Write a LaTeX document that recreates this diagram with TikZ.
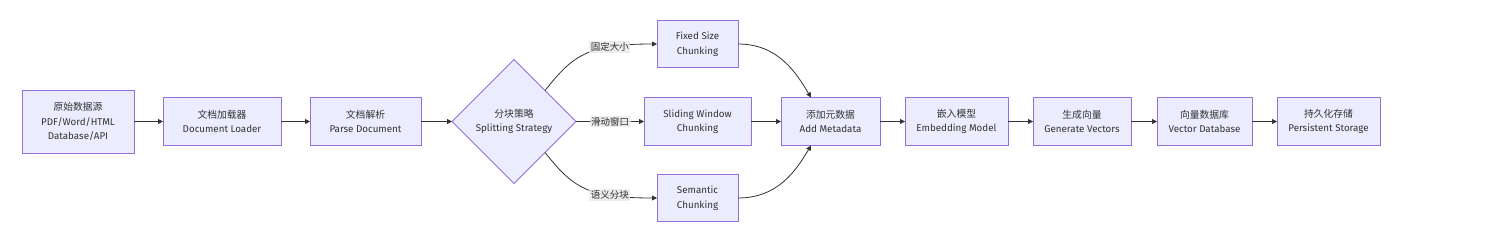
\documentclass[tikz,border=0pt]{standalone}
\usepackage{fontspec}
\setmainfont{Fira Sans}
\newfontfamily\cjk{Noto Sans CJK SC}
\usepackage{tikz}
\usetikzlibrary{positioning,arrows.meta,shapes.geometric}
\definecolor{boxfill}{HTML}{ECECFF}
\definecolor{boxline}{HTML}{9370DB}
\definecolor{linkcol}{HTML}{333333}
\definecolor{labfill}{HTML}{E8E8E8}

\begin{document}
\begin{tikzpicture}[
    x=1pt, y=-1pt,
    font=\fontsize{9.8}{14.5}\selectfont,
    text=linkcol,
    proc_box/.style={draw=boxline, fill=boxfill, line width=0.9pt, align=center, inner sep=1pt, outer sep=0pt, minimum height=48pt},
    split_box/.style={diamond, aspect=1, draw=boxline, fill=boxfill, line width=0.9pt, align=center, inner sep=0pt, outer sep=0pt, minimum width=124pt, minimum height=124pt},
    arrow/.style={-{Triangle[length=5pt,width=5pt]}, draw=linkcol, line width=0.8pt},
    edge_lab/.style={fill=labfill, fill opacity=0.8, text opacity=1, inner sep=1.5pt, font=\cjk\fontsize{9.5}{12}\selectfont}
]

\useasboundingbox (0,0) rectangle (1485,246);

% main chain
\node (src) [proc_box, minimum width=112pt, minimum height=63pt] at (78,121.5)
    {{\cjk 原始数据源}\\PDF/Word/HTML\\Database/API};
\node (loader) [proc_box, minimum width=118pt, right=29pt of src]
    {{\cjk 文档加载器}\\Document Loader};
\node (parse) [proc_box, minimum width=111pt, right=29pt of loader]
    {{\cjk 文档解析}\\Parse Document};
\node (split) [split_box, right=31pt of parse]
    {{\cjk 分块策略}\\Splitting Strategy};

% chunking branches
\node (slide) [proc_box, minimum width=107pt, right=68pt of split]
    {Sliding Window\\Chunking};
\node (fix) [proc_box, minimum width=81pt, minimum height=47pt, above=30pt of slide]
    {Fixed Size\\Chunking};
\node (sem) [proc_box, minimum width=81pt, minimum height=47pt, below=29pt of slide]
    {Semantic\\Chunking};

\node (meta) [proc_box, minimum width=99pt, right=30pt of slide]
    {{\cjk 添加元数据}\\Add Metadata};
\node (embed) [proc_box, minimum width=103pt, right=25pt of meta]
    {{\cjk 嵌入模型}\\Embedding Model};
\node (gen) [proc_box, minimum width=98pt, right=25pt of embed]
    {{\cjk 生成向量}\\Generate Vectors};
\node (vdb) [proc_box, minimum width=95pt, right=26pt of gen]
    {{\cjk 向量数据库}\\Vector Database};
\node (store) [proc_box, minimum width=103pt, right=25pt of vdb]
    {{\cjk 持久化存储}\\Persistent Storage};

\draw [arrow] (src) -- (loader);
\draw [arrow] (loader) -- (parse);
\draw [arrow] (parse) -- (split.west);
\draw [arrow] (split.north east) .. controls +(28,-35) and +(-70,0) ..
    node[edge_lab, pos=0.72] {固定大小} (fix.west);
\draw [arrow] (split.east) -- node[edge_lab] {滑动窗口} (slide.west);
\draw [arrow] (split.south east) .. controls +(28,35) and +(-70,0) ..
    node[edge_lab, pos=0.72] {语义分块} (sem.west);
\draw [arrow] (fix.east) .. controls +(40,0) and +(-15,-25) .. ([xshift=-19.5pt]meta.north);
\draw [arrow] (slide) -- (meta);
\draw [arrow] (sem.east) .. controls +(40,0) and +(-15,25) .. ([xshift=-19.5pt]meta.south);
\draw [arrow] (meta) -- (embed);
\draw [arrow] (embed) -- (gen);
\draw [arrow] (gen) -- (vdb);
\draw [arrow] (vdb) -- (store);

\end{tikzpicture}
\end{document}
